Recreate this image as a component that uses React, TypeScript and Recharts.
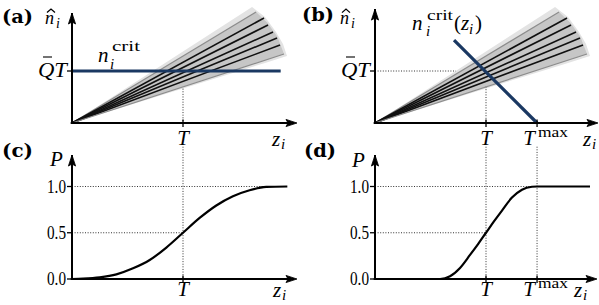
import React from 'react';
import { ComposedChart, Line, Area, XAxis, YAxis, ReferenceLine, ReferenceDot } from 'recharts';

// ---------------- data ----------------
// fan of trajectories n̂_i(z_i): end point of each ray (z in units of T, n in units of Q̄T)
const rayEndZ = [1.658, 1.73, 1.766, 1.811, 1.847, 1.874, 1.91];
const rayEndN = [2.135, 2.019, 1.885, 1.75, 1.635, 1.5, 1.327];
const rayShade = ['light', 'dark', 'dark', 'dark', 'dark', 'dark', 'light'];

// grey spread of the fan
const coneOuterZ = [0, 1.622, 1.739, 1.838, 1.901, 1.937];
const coneOuterLow = [0, 1.079, 1.156, 1.222, 1.264, 1.288];
const coneOuterHigh = [0, 2.231, 2.038, 1.75, 1.519, 1.288];
const coneInnerZ = [0, 1.658, 1.76, 1.85, 1.91];
const coneInnerLow = [0, 1.152, 1.223, 1.286, 1.327];
const coneInnerHigh = [0, 2.135, 1.93, 1.66, 1.327];

// critical thresholds n_i^crit
const critConstZ = [0, 1.88];
const critConstN = [1, 1];
const critLinZ = [0.712, 1.46];
const critLinN = [1.596, 0];

// probability curves P(z_i)
const probCZ = [0, 0.1, 0.25, 0.4, 0.55, 0.7, 0.85, 1.0, 1.15, 1.3, 1.45, 1.6, 1.75, 1.94];
const probCP = [0, 0.004, 0.018, 0.05, 0.115, 0.205, 0.34, 0.5, 0.66, 0.795, 0.895, 0.96, 0.995, 1.0];
const probDZ = [0, 0.586, 0.676, 0.766, 0.856, 0.93, 1.0, 1.07, 1.144, 1.234, 1.324, 1.414, 1.46, 1.937];
const probDP = [0, 0, 0.03, 0.12, 0.26, 0.38, 0.5, 0.62, 0.74, 0.88, 0.965, 0.997, 1.0, 1.0];

// ticks
const ticksXA = [1];
const labelsXA = ['T'];
const ticksXB = [1, 1.46];
const labelsXB = ['T', 'Tmax'];
const ticksYTop = [1];
const labelsYTop = ['QT'];
const ticksYBottom = [0, 0.5, 1];
const labelsYBottom = ['0.0', '0.5', '1.0'];

// axis extents (arrow tips)
const axisEndA = { z: 2.027, v: 2.115 };
const axisEndB = { z: 2.009, v: 2.19 };
const axisEndC = { z: 2.027, v: 1.34 };
const axisEndD = { z: 2.0, v: 1.34 };

// ---------------- helpers ----------------
const SERIF = 'Liberation Serif, DejaVu Serif, serif';
const BOLDSERIF = 'DejaVu Serif, Liberation Serif, serif';
const BLUE = '#1a3862';
const DOT = '1 1.6';
const DOTC = '#333';

const rays = rayEndZ.map((z, i) => ({
  shade: rayShade[i],
  pts: [{ z: 0, n: 0 }, { z, n: rayEndN[i] }],
}));
const coneOuter = coneOuterZ.map((z, i) => ({ z, r: [coneOuterLow[i], coneOuterHigh[i]] }));
const coneInner = coneInnerZ.map((z, i) => ({ z, r: [coneInnerLow[i], coneInnerHigh[i]] }));
const critConst = critConstZ.map((z, i) => ({ z, n: critConstN[i] }));
const critLin = critLinZ.map((z, i) => ({ z, n: critLinN[i] }));
const probC = probCZ.map((z, i) => ({ z, p: probCP[i] }));
const probD = probDZ.map((z, i) => ({ z, p: probDP[i] }));

type Seg = {
  s?: string; dx: number; dy: number; size?: number; it?: boolean; bold?: boolean;
  anchor?: 'start' | 'middle' | 'end'; len?: number; kind?: 'text' | 'hat' | 'bar'; w?: number; family?: string;
};

function T(props: {
  x: number; y: number; size?: number; it?: boolean; bold?: boolean; anchor?: string; len?: number; family?: string; children: any;
}) {
  const extra: any = props.len ? { textLength: props.len, lengthAdjust: 'spacingAndGlyphs' } : {};
  const fam = props.family || SERIF;
  return (
    <text x={props.x} y={props.y} fontSize={props.size || 21} fill="#000" textAnchor={props.anchor || 'start'}
      fontFamily={fam}
      style={{ fontFamily: fam, fontStyle: props.it ? 'italic' : 'normal', fontWeight: props.bold ? 700 : 400 }}
      {...extra}>
      {props.children}
    </text>
  );
}

function drawSegs(cx: number, cy: number, segs: Seg[]) {
  return (
    <g>
      {segs.map((g, i) => {
        if (g.kind === 'hat') {
          return (
            <polyline key={i}
              points={`${cx + g.dx - 4},${cy + g.dy + 3.5} ${cx + g.dx},${cy + g.dy} ${cx + g.dx + 4},${cy + g.dy + 3.5}`}
              fill="none" stroke="#000" strokeWidth={1.3} />
          );
        }
        if (g.kind === 'bar') {
          return <line key={i} x1={cx + g.dx} x2={cx + g.dx + (g.w || 8)} y1={cy + g.dy} y2={cy + g.dy} stroke="#000" strokeWidth={1.1} />;
        }
        return (
          <T key={i} x={cx + g.dx} y={cy + g.dy} size={g.size} it={g.it} bold={g.bold} anchor={g.anchor} len={g.len} family={g.family}>
            {g.s}
          </T>
        );
      })}
    </g>
  );
}

function labelDot(key: string, x: number, y: number, segs: Seg[]) {
  return (
    <ReferenceDot key={key} x={x} y={y} r={1} ifOverflow="visible"
      shape={(p: any) => drawSegs(p.cx, p.cy, segs)} />
  );
}

function arrowRight(key: string, x: number, y: number) {
  return (
    <ReferenceDot key={key} x={x} y={y} r={1} ifOverflow="visible"
      shape={(p: any) => (
        <path d={`M${p.cx},${p.cy} L${p.cx - 11},${p.cy - 3.6} L${p.cx - 9},${p.cy} L${p.cx - 11},${p.cy + 3.6} Z`} fill="#000" stroke="#000" strokeWidth={0.8} />
      )} />
  );
}
function arrowUp(key: string, x: number, y: number) {
  return (
    <ReferenceDot key={key} x={x} y={y} r={1} ifOverflow="visible"
      shape={(p: any) => (
        <path d={`M${p.cx},${p.cy} L${p.cx - 3.6},${p.cy + 11} L${p.cx},${p.cy + 9} L${p.cx + 3.6},${p.cy + 11} Z`} fill="#000" stroke="#000" strokeWidth={0.8} />
      )} />
  );
}

function axisLines(prefix: string, end: { z: number; v: number }) {
  return [
    <ReferenceLine key={prefix + 'ax'} segment={[{ x: -0.012, y: 0 }, { x: end.z - 0.06, y: 0 }]} ifOverflow="visible" stroke="#000" strokeWidth={2} />,
    <ReferenceLine key={prefix + 'ay'} segment={[{ x: 0, y: 0 }, { x: 0, y: end.v }]} ifOverflow="visible" stroke="#000" strokeWidth={2} />,
    arrowRight(prefix + 'arx', end.z, 0),
    arrowUp(prefix + 'ary', 0, end.v),
  ];
}

function dotted(key: string, x1: number, y1: number, x2: number, y2: number) {
  return (
    <ReferenceLine key={key} segment={[{ x: x1, y: y1 }, { x: x2, y: y2 }]} ifOverflow="visible"
      stroke={DOTC} strokeWidth={1} strokeDasharray={DOT} />
  );
}

function pickIdx(ticks: number[], v: number) {
  let idx = ticks.indexOf(v);
  if (idx < 0) idx = ticks.reduce((b, t, i) => (Math.abs(t - v) < Math.abs(ticks[b] - v) ? i : b), 0);
  return idx;
}

function makeXTick(ticks: number[], labels: string[], off: number) {
  return (props: any) => {
    const { x, y, payload } = props;
    const lab = labels[pickIdx(ticks, payload.value)];
    const mark = <line x1={x} x2={x} y1={y - 3.5} y2={y + 4} stroke="#000" strokeWidth={1.3} />;
    if (lab === 'Tmax') {
      return (
        <g>
          {mark}
          <T x={x - 8} y={y + off} anchor="middle" it>T</T>
          <T x={x + 1} y={y + off - 8} size={15} len={30}>max</T>
        </g>
      );
    }
    return (
      <g>
        {mark}
        <T x={x} y={y + off} anchor="middle" it>{lab}</T>
      </g>
    );
  };
}

function makeYTick(ticks: number[], labels: string[]) {
  return (props: any) => {
    const { x, y, payload } = props;
    const lab = labels[pickIdx(ticks, payload.value)];
    const mark = <line x1={x - 5} x2={x} y1={y} y2={y} stroke="#000" strokeWidth={1.3} />;
    if (lab === 'QT') {
      return (
        <g>
          {mark}
          <line x1={x - 29} x2={x - 20} y1={y - 14} y2={y - 14} stroke="#000" strokeWidth={1.1} />
          <T x={x - 5} y={y + 6} anchor="end" it len={29}>QT</T>
        </g>
      );
    }
    return (
      <g>
        {mark}
        <T x={x - 6} y={y + 6} anchor="end" size={18} len={19}>{lab}</T>
      </g>
    );
  };
}

const layer: React.CSSProperties = { position: 'absolute', left: 0, top: 0 };

const TOP_MARGIN_A = { top: 3.4, right: 305, bottom: 172, left: 12 };
const TOP_MARGIN_B = { top: 3.4, right: 2, bottom: 172, left: 315 };
const BOT_MARGIN_C = { top: 140.25, right: 305, bottom: 16, left: 12 };
const BOT_MARGIN_D = { top: 140.25, right: 2, bottom: 16, left: 315 };

function fanSeries(prefix: string) {
  return [
    <Area key={prefix + 'co'} data={coneOuter} dataKey="r" type="linear" stroke="none" fill="#e3e3e3" fillOpacity={1} isAnimationActive={false} dot={false} activeDot={false} />,
    <Area key={prefix + 'ci'} data={coneInner} dataKey="r" type="linear" stroke="none" fill="#c6c6c6" fillOpacity={1} isAnimationActive={false} dot={false} activeDot={false} />,
    ...rays.map((r, i) => (
      <Line key={prefix + 'ray' + i} data={r.pts} dataKey="n" type="linear"
        stroke={r.shade === 'dark' ? '#111' : '#8c8c8c'} strokeWidth={r.shade === 'dark' ? 1.6 : 1.2}
        dot={false} activeDot={false} isAnimationActive={false} />
    )),
  ];
}

export default function App() {
  return (
    <div style={{ position: 'absolute', left: 0, top: 0, width: 599, height: 305, background: '#fff' }}>
      {/* (a) */}
      <div style={layer}>
        <ComposedChart width={599} height={305} margin={TOP_MARGIN_A}>
          <XAxis dataKey="z" type="number" domain={[0, 2]} ticks={ticksXA} interval={0}
            axisLine={false} tickLine={false} tickSize={0} tickMargin={0} height={10}
            tick={makeXTick(ticksXA, labelsXA, 22)} />
          <YAxis type="number" domain={[0, 2.3]} ticks={ticksYTop} interval={0}
            axisLine={false} tickLine={false} tickSize={0} tickMargin={0} width={60}
            tick={makeYTick(ticksYTop, labelsYTop)} />
          {dotted('a-v', 1, 0.66, 1, 0)}
          {fanSeries('a')}
          <Line data={critConst} dataKey="n" type="linear" stroke={BLUE} strokeWidth={3.2} dot={false} activeDot={false} isAnimationActive={false} />
          {axisLines('a', axisEndA)}
          {labelDot('a-lab', 0, axisEndA.v, [
            { s: '(a)', dx: -70, dy: 10, size: 19, bold: true, family: BOLDSERIF, len: 31 },
            { s: 'n', dx: -27, dy: 11, size: 18, it: true },
            { kind: 'hat', dx: -21, dy: -4 },
            { s: 'i', dx: -16, dy: 15, size: 14, it: true },
          ])}
          {labelDot('a-z', axisEndA.z, 0, [
            { s: 'z', dx: -25, dy: 23, it: true },
            { s: 'i', dx: -16, dy: 26, size: 15, it: true },
          ])}
          {labelDot('a-crit', critConstZ[0], critConstN[0], [
            { s: 'n', dx: 26, dy: -9, it: true },
            { s: 'crit', dx: 40, dy: -20, size: 15, len: 28 },
            { s: 'i', dx: 38, dy: -2, size: 15, it: true },
          ])}
        </ComposedChart>
      </div>
      {/* (b) */}
      <div style={layer}>
        <ComposedChart width={599} height={305} margin={TOP_MARGIN_B}>
          <XAxis dataKey="z" type="number" domain={[0, 2]} ticks={ticksXB} interval={0}
            axisLine={false} tickLine={false} tickSize={0} tickMargin={0} height={10}
            tick={makeXTick(ticksXB, labelsXB, 22)} />
          <YAxis type="number" domain={[0, 2.3]} ticks={ticksYTop} interval={0}
            axisLine={false} tickLine={false} tickSize={0} tickMargin={0} width={60}
            tick={makeYTick(ticksYTop, labelsYTop)} />
          {dotted('b-h', 0, 1, 0.73, 1)}
          {dotted('b-v', 1, 0.7, 1, 0)}
          {fanSeries('b')}
          <Line data={critLin} dataKey="n" type="linear" stroke={BLUE} strokeWidth={3.2} dot={false} activeDot={false} isAnimationActive={false} />
          {axisLines('b', axisEndB)}
          {labelDot('b-lab', 0, axisEndB.v, [
            { s: '(b)', dx: -73, dy: 12, size: 19, bold: true, family: BOLDSERIF, len: 32 },
            { s: 'n', dx: -35, dy: 15, size: 18, it: true },
            { kind: 'hat', dx: -29, dy: 0 },
            { s: 'i', dx: -24, dy: 19, size: 14, it: true },
          ])}
          {labelDot('b-z', axisEndB.z, 0, [
            { s: 'z', dx: -15, dy: 23, it: true },
            { s: 'i', dx: -6, dy: 26, size: 15, it: true },
          ])}
          {labelDot('b-crit', critLinZ[0], critLinN[0], [
            { s: 'n', dx: -42, dy: -10, it: true },
            { s: 'crit', dx: -27, dy: -20, size: 15, len: 26 },
            { s: 'i', dx: -28, dy: -4, size: 15, it: true },
            { s: '(', dx: 0, dy: -10 },
            { s: 'z', dx: 7, dy: -10, it: true },
            { s: 'i', dx: 15, dy: -6, size: 15, it: true },
            { s: ')', dx: 21, dy: -10 },
          ])}
        </ComposedChart>
      </div>
      {/* (c) */}
      <div style={layer}>
        <ComposedChart width={599} height={305} margin={BOT_MARGIN_C}>
          <XAxis dataKey="z" type="number" domain={[0, 2]} ticks={ticksXA} interval={0}
            axisLine={false} tickLine={false} tickSize={0} tickMargin={0} height={10}
            tick={makeXTick(ticksXA, labelsXA, 17)} />
          <YAxis type="number" domain={[0, 1.5]} ticks={ticksYBottom} interval={0}
            axisLine={false} tickLine={false} tickSize={0} tickMargin={0} width={60}
            tick={makeYTick(ticksYBottom, labelsYBottom)} />
          {dotted('c-h1', 0, 1, 1.94, 1)}
          {dotted('c-h5', 0, 0.5, 1, 0.5)}
          {dotted('c-v', 1, 1.43, 1, 0)}
          <Line data={probC} dataKey="p" type="monotone" stroke="#000" strokeWidth={2.2} dot={false} activeDot={false} isAnimationActive={false} />
          {axisLines('c', axisEndC)}
          {labelDot('c-lab', 0, axisEndC.v, [
            { s: '(c)', dx: -70, dy: 2, size: 19, bold: true, family: BOLDSERIF, len: 31 },
            { s: 'P', dx: -22, dy: 11, it: true },
          ])}
          {labelDot('c-z', axisEndC.z, 0, [
            { s: 'z', dx: -24, dy: 18, it: true },
            { s: 'i', dx: -15, dy: 21, size: 15, it: true },
          ])}
        </ComposedChart>
      </div>
      {/* (d) */}
      <div style={layer}>
        <ComposedChart width={599} height={305} margin={BOT_MARGIN_D}>
          <XAxis dataKey="z" type="number" domain={[0, 2]} ticks={ticksXB} interval={0}
            axisLine={false} tickLine={false} tickSize={0} tickMargin={0} height={10}
            tick={makeXTick(ticksXB, labelsXB, 17)} />
          <YAxis type="number" domain={[0, 1.5]} ticks={ticksYBottom} interval={0}
            axisLine={false} tickLine={false} tickSize={0} tickMargin={0} width={60}
            tick={makeYTick(ticksYBottom, labelsYBottom)} />
          {dotted('d-h1', 0, 1, 1.46, 1)}
          {dotted('d-h5', 0, 0.5, 1, 0.5)}
          {dotted('d-v1', 1, 1.43, 1, 0)}
          {dotted('d-v2', 1.46, 1.43, 1.46, 0)}
          <Line data={probD} dataKey="p" type="monotone" stroke="#000" strokeWidth={2.2} dot={false} activeDot={false} isAnimationActive={false} />
          {axisLines('d', axisEndD)}
          {labelDot('d-lab', 0, axisEndD.v, [
            { s: '(d)', dx: -71, dy: 2, size: 19, bold: true, family: BOLDSERIF, len: 32 },
            { s: 'P', dx: -23, dy: 12, it: true },
          ])}
          {labelDot('d-z', axisEndD.z, 0, [
            { s: 'z', dx: -23, dy: 18, it: true },
            { s: 'i', dx: -14, dy: 21, size: 15, it: true },
          ])}
        </ComposedChart>
      </div>
    </div>
  );
}
